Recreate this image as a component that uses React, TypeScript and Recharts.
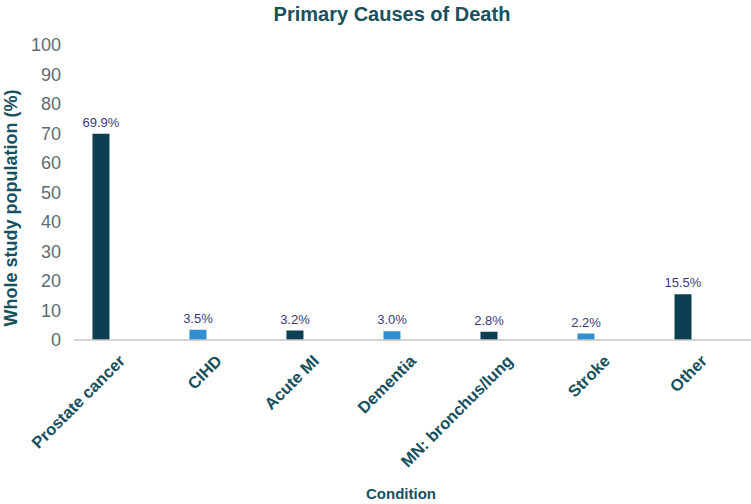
import React from 'react';
import { BarChart, Bar, XAxis, YAxis, Cell, LabelList } from 'recharts';

// categories and values (% of whole study population)
const causes = ['Prostate cancer', 'CIHD', 'Acute MI', 'Dementia', 'MN: bronchus/lung', 'Stroke', 'Other'];
const shares = [69.9, 3.5, 3.2, 3.0, 2.8, 2.2, 15.5];
const yTicks = [0, 10, 20, 30, 40, 50, 60, 70, 80, 90, 100];

const DARK = '#0d3e51';
const LIGHT = '#2f8fd1';
const TEAL = '#18505e';

const data = causes.map((name, i) => ({ idx: i, name, value: shares[i] }));

const CauseTick = (props: any) => {
  const { x, y, payload } = props;
  const tx = x + 25;
  const ty = y + 14;
  return (
    <text
      x={tx}
      y={ty}
      transform={`rotate(-45, ${tx}, ${ty})`}
      textAnchor="end"
      fill={TEAL}
      fontSize={16.5}
      fontWeight="bold"
      fontFamily="Liberation Sans, Arial, sans-serif"
    >
      {causes[payload.value]}
    </text>
  );
};

export default function App() {
  return (
    <div style={{ position: 'absolute', left: 0, top: 0, width: 751, height: 504, background: '#fff' }}>
      <div
        style={{
          position: 'absolute',
          left: 0,
          top: 3,
          width: 784,
          textAlign: 'center',
          fontFamily: '"Liberation Sans Narrow", "Arial Narrow", sans-serif',
          fontWeight: 'bold',
          fontSize: 20,
          color: TEAL,
        }}
      >
        Primary Causes of Death
      </div>
      <BarChart
        width={751}
        height={504}
        data={data}
        margin={{ top: 45, right: 0, bottom: 0, left: 0 }}
      >
        <XAxis
          type="number"
          dataKey="idx"
          domain={[-0.278, 6.701]}
          ticks={[0, 1, 2, 3, 4, 5, 6]}
          allowDataOverflow
          interval={0}
          height={164}
          tickLine={false}
          axisLine={{ stroke: '#c4c4c4', strokeWidth: 1.5 }}
          tick={<CauseTick />}
          label={{
            content: () => (
              <text
                x={401}
                y={499}
                textAnchor="middle"
                fill={TEAL}
                fontSize={15}
                fontWeight="bold"
                fontFamily='"Liberation Sans Narrow", "Arial Narrow", sans-serif'
              >
                Condition
              </text>
            ),
          }}
        />
        <YAxis
          type="number"
          domain={[0, 100]}
          ticks={yTicks}
          width={74}
          axisLine={false}
          tickLine={false}
          tickSize={0}
          tickMargin={13}
          tick={{ fill: '#5d6c74', fontSize: 18, fontFamily: '"Liberation Sans Narrow", "Arial Narrow", sans-serif' }}
          label={{
            content: () => (
              <text
                x={17}
                y={208}
                transform="rotate(-90, 17, 208)"
                textAnchor="middle"
                fill={TEAL}
                fontSize={18}
                fontWeight="bold"
                fontFamily="Liberation Sans, Arial, sans-serif"
              >
                Whole study population (%)
              </text>
            ),
          }}
        />
        <Bar dataKey="value" barSize={17} isAnimationActive={false}>
          {data.map((d, i) => (
            <Cell key={d.name} fill={i === 1 || i === 3 || i === 5 ? LIGHT : DARK} />
          ))}
          <LabelList
            dataKey="value"
            position="top"
            offset={7}
            fill="#3a3a78"
            fontSize={13}
            fontFamily="Liberation Sans, Arial, sans-serif"
            formatter={(v: any) => `${Number(v).toFixed(1)}%`}
          />
        </Bar>
      </BarChart>
    </div>
  );
}
